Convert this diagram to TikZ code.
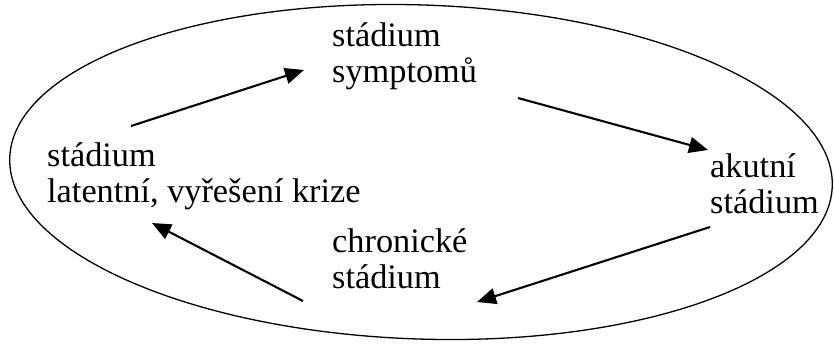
\documentclass[tikz,border=0pt]{standalone}
\usepackage{fontspec}
\setmainfont{Liberation Serif}
\usetikzlibrary{arrows.meta}
\begin{document}
\begin{tikzpicture}[x=1pt,y=-1pt,
  txt/.style={inner sep=0pt, anchor=base west, align=left,
    font=\fontsize{34.3}{35.5}\selectfont},
  flow/.style={line width=2.1pt, -{Triangle[length=19pt,width=16pt]}},
  ring/.style={line width=1.3pt}]
\useasboundingbox (0,0) rectangle (834,346);

% outer cycle boundary, slightly tilted
\draw[ring, rotate around={-2:(421,172)}] (421,172) ellipse [x radius=411.5pt, y radius=167pt];

% stages (anchored at the baseline of the last line)
\node[txt] (sym) at (332,82)  {stádium\\symptomů};
\node[txt] (lat) at (47,202)  {stádium\\latentní, vyřešení krize};
\node[txt] (aku) at (710,213) {akutní\\stádium};
\node[txt] (chr) at (332,288) {chronické\\stádium};

% arrow end points
\coordinate (a1s) at (131,126);
\coordinate (a1e) at (304,70);
\coordinate (a2s) at (518,98);
\coordinate (a2e) at (708,150);
\coordinate (a3s) at (710,227);
\coordinate (a3e) at (477,302);
\coordinate (a4s) at (303,301);
\coordinate (a4e) at (152,223);

\draw[flow] (a1s) -- (a1e);
\draw[flow] (a2s) -- (a2e);
\draw[flow] (a3s) -- (a3e);
\draw[flow] (a4s) -- (a4e);
\end{tikzpicture}
\end{document}
